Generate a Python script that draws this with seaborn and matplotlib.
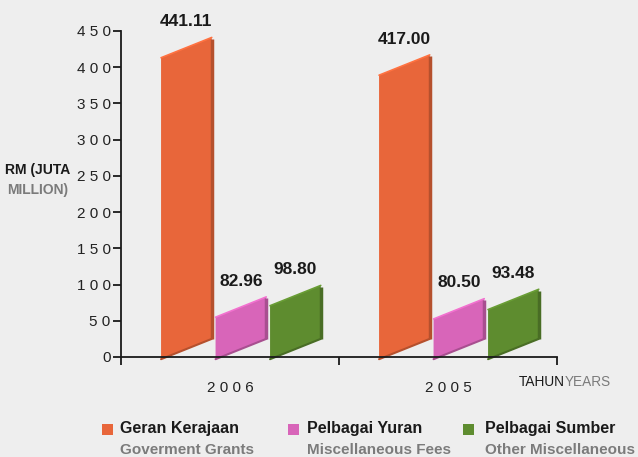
import numpy as np
import pandas as pd
import matplotlib
matplotlib.use("Agg")
import matplotlib.pyplot as plt
import seaborn as sns
from matplotlib.patches import Polygon, Rectangle
import matplotlib.colors as mcolors

# ---- data ----
years = ["2006", "2005"]
series_ms = ["Geran Kerajaan", "Pelbagai Yuran", "Pelbagai Sumber"]
series_en = ["Goverment Grants", "Miscellaneous Fees", "Other Miscellaneous"]
grants = [441.11, 417.00]
fees = [82.96, 80.50]
other = [98.80, 93.48]
y_ticks = [0, 50, 100, 150, 200, 250, 300, 350, 400, 450]
colors = ["#e8663a", "#d865b9", "#5e8c2f"]

df = pd.DataFrame({
    "year": years * 3,
    "series": np.repeat(series_ms, len(years)),
    "value": grants + fees + other,
})

sns.set_theme(style="white")
plt.rcParams["font.family"] = ["Liberation Sans", "DejaVu Sans"]

GRAY = "#7b7b7b"
DARK = "#1a1a1a"
BG = "#eeeeee"

W, H = 638, 457
fig = plt.figure(figsize=(W / 100, H / 100), dpi=100)
fig.patch.set_facecolor(BG)
ax = fig.add_axes([121 / W, 100 / H, (557 - 121) / W, 326 / H])
ax.set_facecolor("none")

sns.barplot(data=df, x="year", y="value", hue="series", order=years,
            hue_order=series_ms, palette=colors, width=0.75, gap=0.07,
            saturation=1, errorbar=None, legend=False, ax=ax)

# turn flat bars into slanted pseudo-3D bars
shift = 0.05
rise = 28
base = -3
for bar in list(ax.patches):
    x0 = bar.get_x() + shift
    w = bar.get_width()
    v = bar.get_height()
    if not np.isfinite(v) or w == 0:
        continue
    fc = bar.get_facecolor()
    dark = tuple(np.array(mcolors.to_rgb(fc)) * 0.78)
    light = tuple(np.minimum(np.array(mcolors.to_rgb(fc)) * 1.12, 1))
    x1 = x0 + w
    bar.set_visible(False)
    ax.add_patch(Polygon([(x0, base), (x1, base + rise), (x1, v), (x0, v - rise)],
                         closed=True, facecolor=fc, edgecolor="none",
                         clip_on=False, zorder=2))
    ax.plot([x0, x1], [v - rise, v], color=light, lw=1.2,
            clip_on=False, zorder=2)
    ax.plot([x1, x1], [base + rise, v - 2], color=dark, lw=2.5,
            solid_capstyle="butt", clip_on=False, zorder=2)
    ax.plot([x0, x1], [base, base + rise], color=dark, lw=1.5,
            clip_on=False, zorder=2)
    ax.annotate(f"{v:.2f}", (x0 + w / 2, v), xytext=(0, 6),
                textcoords="offset points", ha="center", va="bottom",
                fontsize=12.5, fontweight="bold", color=DARK)

ax.set_xlim(-0.5, 1.5)
ax.set_ylim(0, 450)

for s in ["top", "right"]:
    ax.spines[s].set_visible(False)
for s in ["left", "bottom"]:
    ax.spines[s].set_color(DARK)
    ax.spines[s].set_linewidth(1.3)
    ax.spines[s].set_zorder(3)

ax.set_yticks(y_ticks)
ax.set_yticklabels([" ".join(str(t)) for t in y_ticks])
ax.tick_params(axis="y", direction="out", length=5.5, width=1.3,
               color=DARK, labelsize=11, labelcolor="#222222", pad=2, left=True)

ax.set_xticks([-0.5, 0.5, 1.5])
ax.set_xticklabels(["", "", ""])
ax.set_xticks([0, 1], minor=True)
ax.set_xticklabels([" ".join(y) for y in years], minor=True)
ax.tick_params(axis="x", which="major", direction="out", length=6, width=1.3,
               color=DARK, bottom=True)
ax.tick_params(axis="x", which="minor", length=0, pad=17,
               labelsize=11, labelcolor="#222222")
ax.set_xlabel("")
ax.set_ylabel("")

# y axis title
fig.text(38 / W, 1 - 170 / H, "RM (JUTA", ha="center", va="center",
         fontsize=10, fontweight="bold", color=DARK)
fig.text(38 / W, 1 - 190 / H, "MILLION)", ha="center", va="center",
         fontsize=10, fontweight="bold", color=GRAY)

# x axis title
fig.text(565 / W, 1 - 382 / H, "TAHUN", ha="right", va="center",
         fontsize=9.8, color=DARK)
fig.text(565 / W, 1 - 382 / H, "YEARS", ha="left", va="center",
         fontsize=9.8, color=GRAY)

# legend
sq_x = [102, 288, 463]
txt_x = [120, 307, 485]
for i in range(len(series_ms)):
    fig.add_artist(Rectangle((sq_x[i] / W, 1 - 435 / H), 11 / W, 11 / H,
                             transform=fig.transFigure, facecolor=colors[i],
                             edgecolor="none"))
    fig.text(txt_x[i] / W, 1 - 429 / H, series_ms[i], ha="left", va="center",
             fontsize=11.5, fontweight="bold", color=DARK)
    fig.text(txt_x[i] / W, 1 - 450 / H, series_en[i], ha="left", va="center",
             fontsize=11, fontweight="bold", color=GRAY)

fig.savefig("out.png", dpi=100, facecolor=BG)
